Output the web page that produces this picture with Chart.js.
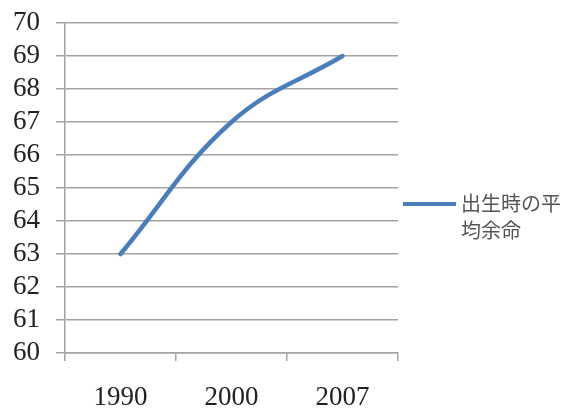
<!DOCTYPE html>
<html>
<head>
<meta charset="utf-8">
<script src="https://cdn.jsdelivr.net/npm/chart.js@4"></script>
<style>
  html, body { margin: 0; padding: 0; background: #fff; }
  #wrap { width: 569px; height: 409px; position: relative; }
</style>
</head>
<body>
<div id="wrap"><canvas id="c" width="569" height="409"></canvas></div>
<script>
const years = ['1990', '2000', '2007'];
const lifeExpectancy = [63, 67, 69];
const seriesName = ['出生時の平', '均余命'];
const yMin = 60, yMax = 70, yStep = 1;

const gridColor = '#a3a3a3';
const lineColor = '#4a7ebb';

// Legend on the right: a short line swatch followed by the wrapped series name
const sideLegend = {
  id: 'sideLegend',
  afterDraw(chart) {
    const ctx = chart.ctx;
    const ds = chart.data.datasets[0];
    const x0 = 403, y0 = 204;
    ctx.save();
    ctx.strokeStyle = ds.borderColor;
    ctx.lineWidth = 4;
    ctx.beginPath();
    ctx.moveTo(x0, y0);
    ctx.lineTo(x0 + 53, y0);
    ctx.stroke();
    ctx.fillStyle = '#555';
    ctx.font = '20px "Noto Sans CJK JP"';
    ctx.textBaseline = 'middle';
    ctx.textAlign = 'left';
    seriesName.forEach((t, i) => ctx.fillText(t, x0 + 58, y0 - 1 + i * 27));
    ctx.restore();
  }
};

new Chart(document.getElementById('c'), {
  type: 'line',
  data: {
    labels: years,
    datasets: [{
      label: seriesName.join(''),
      data: lifeExpectancy,
      borderColor: lineColor,
      borderWidth: 4.5,
      tension: 0.4,
      pointRadius: 0,
      borderCapStyle: 'round',
      fill: false
    }]
  },
  options: {
    responsive: false,
    animation: false,
    layout: { padding: { top: 23, right: 171, left: 0, bottom: 0 } },
    plugins: { legend: { display: false }, tooltip: { enabled: false } },
    scales: {
      x: {
        offset: true,
        afterFit(s) { s.height = 56; s.paddingLeft = 0; s.paddingRight = 0; },
        grid: { offset: true, drawOnChartArea: false, drawTicks: true, tickLength: 8, color: gridColor, lineWidth: 1.5 },
        border: { display: true, color: gridColor, width: 1.5 },
        ticks: { color: '#222', padding: 21, font: { family: '"Liberation Serif"', size: 27 } }
      },
      y: {
        min: yMin, max: yMax,
        afterFit(s) { s.width = 65; s.paddingTop = 0; s.paddingBottom = 0; },
        grid: { color: gridColor, lineWidth: 1.5, tickLength: 9 },
        border: { display: true, color: gridColor, width: 1.5 },
        ticks: { stepSize: yStep, autoSkip: false, color: '#222', padding: 16, font: { family: '"Liberation Serif"', size: 27 } }
      }
    }
  },
  plugins: [sideLegend]
});
</script>
</body>
</html>
